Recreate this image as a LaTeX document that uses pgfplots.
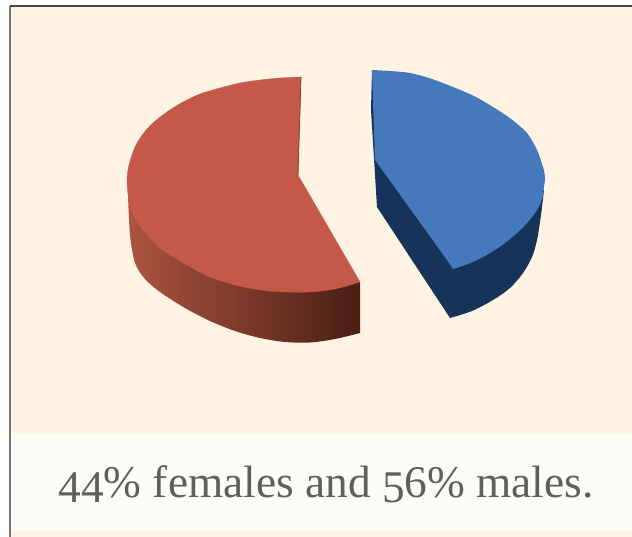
\documentclass[border=0pt]{standalone}
\usepackage{fontspec}
\setmainfont{Liberation Serif}
\usepackage{pgfplots}
\pgfplotsset{compat=1.18}
\definecolor{bgc}{HTML}{FFF3E3}
\definecolor{band}{HTML}{FDFCF6}
\definecolor{redtop}{HTML}{C4594A}
\definecolor{bluetop}{HTML}{4679BC}
\definecolor{bluedark}{HTML}{16335A}
\definecolor{txt}{HTML}{5F605A}
\newcommand{\dn}[1]{\raisebox{-6pt}{#1}}
\begin{document}
\begin{tikzpicture}
\begin{axis}[scale only axis,width=632bp,height=537bp,xmin=0,xmax=632,ymin=0,ymax=537,y dir=reverse,axis lines=none,clip=true]
% background
\addplot[draw=none,fill=white] coordinates {(0,0)(632,0)(632,537)(0,537)} -- cycle;
\addplot[draw=none,fill=bgc] coordinates {(10,6)(632,6)(632,537)(10,537)} -- cycle;
\addplot[draw=none,fill=band] coordinates {(11,433)(632,433)(632,530)(11,530)} -- cycle;
\addplot[draw={rgb,255:red,120;green,118;blue,114},line width=1.2bp] coordinates {(10,6)(10,537)};
\addplot[draw={rgb,255:red,70;green,66;blue,66},line width=1.2bp] coordinates {(10,6)(632,6)};
% red side
\addplot[draw=none,smooth,left color={rgb,255:red,172;green,84;blue,64},middle color={rgb,255:red,128;green,60;blue,46},right color={rgb,255:red,74;green,30;blue,20}] coordinates {
(360,333)(335,339)(310,342.5)(285,342)(260,338)(235,331)(210,321)(185,308)(160,292)(145,279)(135,263)(130,235)(128,195)} -- (axis cs:180,240) -- (axis cs:260,285) -- (axis cs:360,282) -- cycle;
% red top
\addplot[draw={rgb,255:red,196;green,89;blue,74},line width=0.3bp,smooth,fill=redtop] coordinates {
(360,282)(335,289)(310,292)(285,292)(260,290)(235,285)(210,277)(185,264)(160,248)(143,230)(131,210)(127,183)(129,165)(135,147)(143,134)(153,123)(167,112)(183,102)(200,94)(220,88)(240,83)(260,80)(280,78)(301,77)} -- (axis cs:298,175) -- cycle;
\addplot[draw={rgb,255:red,130;green,66;blue,56},line width=0.8bp] coordinates {(301,77)(298,175)};
% blue side
\addplot[draw=none,smooth,fill=bluedark] coordinates {
(450,318)(472,311)(493,300)(510,288)(523,273)(532,257)(537,240)(541,215)(544,190)} -- (axis cs:450,200) -- (axis cs:372,70) -- (axis cs:371,110) -- (axis cs:377,207) -- cycle;
% blue top
\addplot[draw=none,smooth,fill=bluetop] coordinates {
(372,70)(390,71)(410,73)(432,79)(453,87)(474,96)(493,107)(511,119)(527,133)(537,150)(543,167)(545,177)(544,187)(542,199)(537,210)(528,222)(517,233)(501,246)(483,257)(468,264)(453,269)} -- (axis cs:447,260) -- (axis cs:375,160) -- cycle;
\node[anchor=base,font=\fontsize{45.5}{50}\selectfont,text=txt] at (axis cs:326,497) {\dn{4}\dn{4}\% females and \dn{5}6\% males.};
\end{axis}
\end{tikzpicture}
\end{document}
